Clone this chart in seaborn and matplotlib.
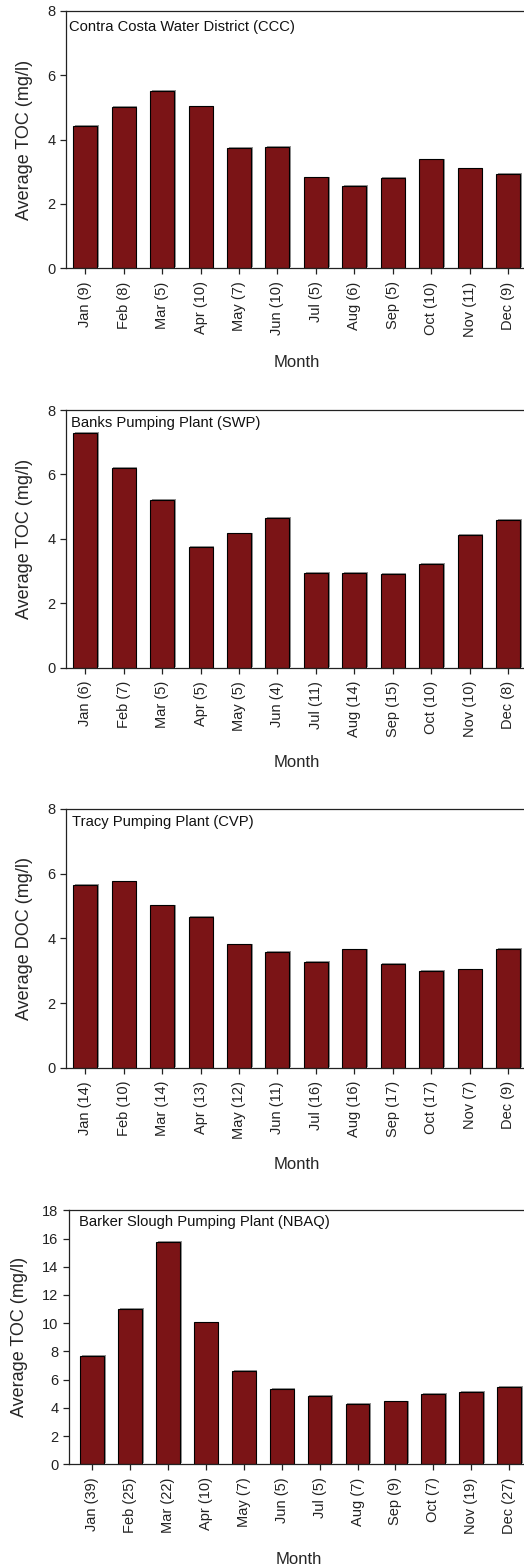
import numpy as np
import pandas as pd
import matplotlib
matplotlib.use("Agg")
import matplotlib.pyplot as plt
import matplotlib.patheffects as pe
import seaborn as sns

# ---------- DATA ----------
months = ["Jan", "Feb", "Mar", "Apr", "May", "Jun",
          "Jul", "Aug", "Sep", "Oct", "Nov", "Dec"]

ccc_n = [9, 8, 5, 10, 7, 10, 5, 6, 5, 10, 11, 9]
ccc_toc = [4.43, 5.00, 5.50, 5.03, 3.73, 3.77, 2.82, 2.56, 2.80, 3.38, 3.10, 2.93]

swp_n = [6, 7, 5, 5, 5, 4, 11, 14, 15, 10, 10, 8]
swp_toc = [7.28, 6.21, 5.20, 3.74, 4.17, 4.66, 2.93, 2.95, 2.90, 3.21, 4.11, 4.60]

cvp_n = [14, 10, 14, 13, 12, 11, 16, 16, 17, 17, 7, 9]
cvp_doc = [5.65, 5.76, 5.02, 4.66, 3.81, 3.57, 3.26, 3.66, 3.20, 2.99, 3.04, 3.68]

nbaq_n = [39, 25, 22, 10, 7, 5, 5, 7, 9, 7, 19, 27]
nbaq_toc = [7.70, 11.03, 15.75, 10.06, 6.59, 5.34, 4.82, 4.27, 4.46, 4.96, 5.12, 5.46]

titles = ["Contra Costa Water District (CCC)", "Banks Pumping Plant (SWP)",
          "Tracy Pumping Plant (CVP)", "Barker Slough Pumping Plant (NBAQ)"]
ylabels = ["Average TOC (mg/l)", "Average TOC (mg/l)",
           "Average DOC (mg/l)", "Average TOC (mg/l)"]
counts = [ccc_n, swp_n, cvp_n, nbaq_n]
values = [ccc_toc, swp_toc, cvp_doc, nbaq_toc]
ymaxes = [8, 8, 8, 18]

# ---------- STYLE ----------
sns.set_style("ticks")
plt.rcParams["font.family"] = ["Liberation Sans", "DejaVu Sans"]
plt.rcParams["axes.linewidth"] = 0.9
plt.rcParams["axes.edgecolor"] = "#222222"
plt.rcParams["xtick.color"] = "#222222"
plt.rcParams["ytick.color"] = "#222222"
plt.rcParams["text.color"] = "#111111"

bar_color = "#7B1416"

fig = plt.figure(figsize=(5.24, 15.68), dpi=100)
W, H = 524, 1568

# axes boxes in pixels: left, top, bottom, right
boxes = [(65.7, 10.7, 268.3, 527.3),
         (65.7, 410.0, 667.7, 527.3),
         (65.7, 809.0, 1067.7, 527.3),
         (69.0, 1210.3, 1464.3, 528.0)]
xlefts = [-0.51, -0.51, -0.51, -0.615]
title_pos = [(0.007, 0.938), (0.0115, 0.948), (0.013, 0.948), (0.022, 0.953)]

for i in range(4):
    l, t, b, r = boxes[i]
    ax = fig.add_axes([l / W, 1 - b / H, (r - l) / W, (b - t) / H])

    labels = [f"{m} ({n})" for m, n in zip(months, counts[i])]
    df = pd.DataFrame({"Month": labels, "Value": values[i]})
    sns.barplot(data=df, x="Month", y="Value", color=bar_color, saturation=1,
                width=0.625, edgecolor="black", linewidth=0.8, ax=ax)
    for p in ax.patches:
        p.set_path_effects([pe.SimplePatchShadow(offset=(1.2, 0.6),
                                                 shadow_rgbFace="#888888", alpha=0.9),
                            pe.Normal()])

    ax.set_xlim(xlefts[i], 11.5)
    ax.set_ylim(0, ymaxes[i])
    ax.set_yticks(np.arange(0, ymaxes[i] + 1, 2))
    ax.tick_params(axis="x", rotation=90, labelsize=10.5, length=4, width=0.9, pad=5.5)
    ax.tick_params(axis="y", labelsize=10.5, length=4, width=0.9, pad=3.5)
    for s in ["top", "right", "left", "bottom"]:
        ax.spines[s].set_visible(True)

    ax.set_xlabel("Month", fontsize=12, labelpad=13)
    ax.set_ylabel(ylabels[i], fontsize=13, labelpad=10)
    ax.text(title_pos[i][0], title_pos[i][1], titles[i], transform=ax.transAxes,
            fontsize=10.6, ha="left", va="center")

fig.savefig("out.png", dpi=100)
